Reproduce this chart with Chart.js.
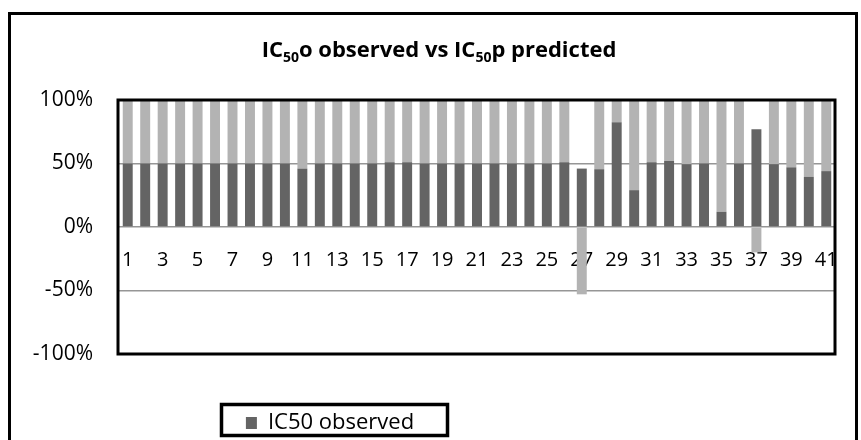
<!DOCTYPE html>
<html>
<head>
<meta charset="utf-8">
<title>IC50 observed vs IC50 predicted</title>
<script src="https://cdn.jsdelivr.net/npm/chart.js@4.4.0/dist/chart.umd.min.js"></script>
<style>
    html, body { margin: 0; padding: 0; background: #fff; }
    #wrap { width: 861px; height: 440px; }
</style>
</head>
<body>
<div id="wrap"><canvas id="icChart" width="861" height="440"></canvas></div>
<script>
// compound numbers 1..41
const compounds = [];
for (let i = 1; i <= 41; i++) compounds.push(String(i));

// share of IC50 observed (%)
const observed = [50, 50, 50, 50, 50, 50, 50, 50, 50, 50,
    46, 50, 50, 50, 50, 51, 51, 50, 50, 50,
    50, 50, 50, 50, 50, 51, 46, 45.5, 82.5, 29,
    51, 52, 49.5, 50, 12, 50, 77, 49.5, 47, 39.5,
    44];

// share of IC50 predicted (%), negative ones hang below zero
const predicted = [50, 50, 50, 50, 50, 50, 50, 50, 50, 50,
    54, 50, 50, 50, 50, 49, 49, 50, 50, 50,
    50, 50, 50, 50, 50, 49, -53, 54.5, 17.5, 71,
    49, 48, 50.5, 50, 88, 50, -20, 50.5, 53, 60.5,
    56];

const seriesNames = ['IC50 observed', 'IC50 predicted'];
const yTicks = [-100, -50, 0, 50, 100];

// title with subscripts: [text, isSubscript]
const titleParts = [['IC', false], ['50', true], ['o observed vs IC', false], ['50', true], ['p predicted', false]];

const FONT = '"Open Sans", "Noto Sans", sans-serif';

// frames, title and legend box drawn on top
const decorPlugin = {
    id: 'decor',
    afterLayout: function (chart) {
        const lg = chart.legend;
        if (lg) {
            lg.left = 222;
            lg.right = 438;
            lg.width = lg.right - lg.left;
            lg.top = 402;
            lg.bottom = 440;
            lg.height = lg.bottom - lg.top;
        }
    },
    afterDraw: function (chart) {
        const ctx = chart.ctx;
        const a = chart.chartArea;
        ctx.save();
        ctx.strokeStyle = '#000';
        ctx.lineWidth = 3;
        // outer border
        ctx.strokeRect(9.5, 13.5, 847, 440);
        // plot border
        ctx.strokeRect(a.left - 1, a.top, a.right - a.left + 1, a.bottom - a.top);
        // legend border
        ctx.lineWidth = 3.5;
        ctx.strokeRect(221.5, 404.5, 226, 31);

        // title
        const big = 'bold 22px ' + FONT;
        const small = 'bold 14px ' + FONT;
        let total = 0;
        titleParts.forEach(function (p) {
            ctx.font = p[1] ? small : big;
            total += ctx.measureText(p[0]).width;
        });
        let x = 439 - total / 2;
        const base = 57;
        ctx.fillStyle = '#000';
        ctx.textBaseline = 'alphabetic';
        ctx.textAlign = 'left';
        titleParts.forEach(function (p) {
            ctx.font = p[1] ? small : big;
            ctx.fillText(p[0], x, p[1] ? base + 5 : base);
            x += ctx.measureText(p[0]).width;
        });
        ctx.restore();
    }
};

new Chart(document.getElementById('icChart'), {
    type: 'bar',
    data: {
        labels: compounds,
        datasets: [{
            label: seriesNames[0],
            data: observed,
            backgroundColor: '#646464',
            borderWidth: 0,
            barPercentage: 0.57,
            categoryPercentage: 1.0
        }, {
            label: seriesNames[1],
            data: predicted,
            backgroundColor: '#b3b3b3',
            borderWidth: 0,
            barPercentage: 0.57,
            categoryPercentage: 1.0
        }]
    },
    options: {
        responsive: false,
        animation: false,
        layout: {
            padding: { left: 0, right: 26, top: 100, bottom: 44 }
        },
        plugins: {
            title: { display: false },
            tooltip: { enabled: false },
            legend: {
                display: true,
                position: 'bottom',
                labels: {
                    filter: function (item) { return item.datasetIndex === 0; },
                    boxWidth: 11,
                    boxHeight: 12,
                    color: '#000',
                    padding: 10,
                    font: { family: FONT, size: 22 }
                }
            }
        },
        scales: {
            x: {
                stacked: true,
                position: { y: 0 },
                grid: { display: false, drawTicks: false },
                border: { display: false },
                ticks: {
                    autoSkip: false,
                    maxRotation: 0,
                    padding: 21,
                    color: '#000',
                    font: { family: FONT, size: 20 },
                    callback: function (val, i) {
                        return i % 2 === 0 ? compounds[i] : '';
                    }
                }
            },
            y: {
                stacked: true,
                min: yTicks[0],
                max: yTicks[yTicks.length - 1],
                afterBuildTicks: function (scale) {
                    scale.ticks = yTicks.map(function (v) { return { value: v }; });
                },
                afterFit: function (scale) { scale.width = 119; },
                grid: { color: '#969696', lineWidth: 1.5, drawTicks: false },
                border: { display: false },
                ticks: {
                    padding: 26,
                    color: '#000',
                    font: { family: FONT, size: 21 },
                    callback: function (v) { return v + '%'; }
                }
            }
        }
    },
    plugins: [decorPlugin]
});
</script>
</body>
</html>
